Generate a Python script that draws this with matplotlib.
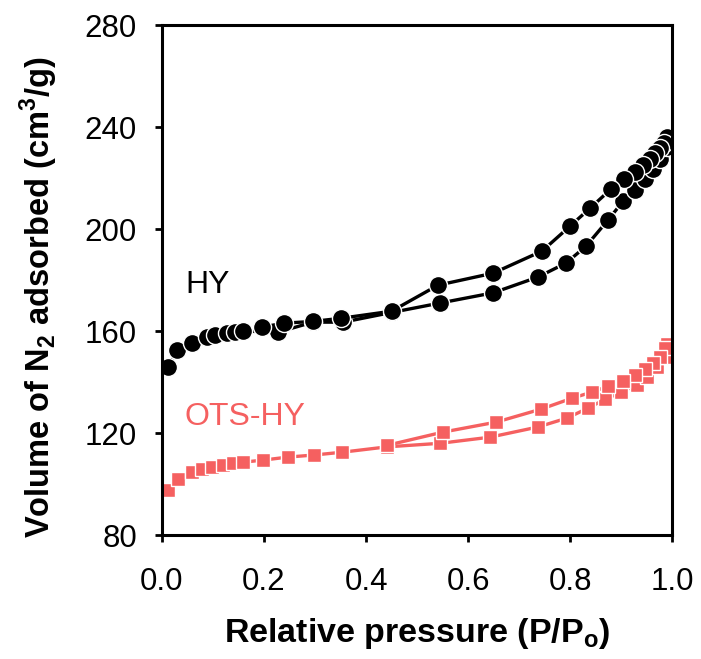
import matplotlib
matplotlib.use("Agg")
import matplotlib.pyplot as plt

plt.rcParams['font.family'] = ['Liberation Sans', 'DejaVu Sans']

# HY isotherm
hy_ads_x = [0.012, 0.03, 0.059, 0.088, 0.104, 0.127, 0.143, 0.159, 0.228, 0.296, 0.355, 0.45,
            0.545, 0.649, 0.737, 0.792, 0.831, 0.874, 0.904, 0.927, 0.947, 0.963, 0.976, 0.99]
hy_ads_y = [145.9, 152.5, 155.3, 157.6, 158.4, 159.2, 159.6, 160.0, 159.6, 163.5, 163.5, 167.3,
            171.0, 175.0, 181.2, 186.7, 193.3, 203.5, 211.0, 215.5, 219.5, 223.5, 227.5, 232.0]
hy_des_x = [0.99, 0.984, 0.976, 0.967, 0.957, 0.943, 0.927, 0.906, 0.88, 0.839, 0.80, 0.745,
            0.649, 0.541, 0.45, 0.35, 0.296, 0.24, 0.196]
hy_des_y = [236.0, 233.7, 231.8, 229.8, 227.5, 225.0, 222.4, 219.6, 215.7, 208.2, 201.2, 191.4,
            182.7, 178.0, 167.8, 165.0, 163.8, 163.1, 161.6]

# OTS-HY isotherm
ots_ads_x = [0.012, 0.031, 0.059, 0.078, 0.098, 0.12, 0.139, 0.159, 0.198, 0.247, 0.298, 0.353,
             0.441, 0.545, 0.643, 0.737, 0.794, 0.835, 0.869, 0.90, 0.93, 0.95, 0.97, 0.985, 0.995]
ots_ads_y = [97.6, 102.0, 104.7, 105.9, 106.7, 107.5, 108.2, 108.6, 109.4, 110.6, 111.4, 112.5,
             114.6, 116.0, 118.4, 122.4, 125.9, 129.8, 133.3, 136.0, 139.0, 142.0, 146.0, 150.0, 154.0]
ots_des_x = [0.99, 0.986, 0.975, 0.963, 0.947, 0.927, 0.904, 0.875, 0.843, 0.804, 0.743, 0.655,
             0.551, 0.441]
ots_des_y = [155.0, 153.3, 149.8, 147.5, 145.1, 142.7, 140.4, 138.4, 136.1, 133.7, 129.4, 124.3,
             120.4, 115.2]

ots_color = '#F56060'

fig = plt.figure(figsize=(7.01, 6.59), dpi=100)
ax = fig.add_axes([0.231, 0.188, 0.728, 0.774])

ax.plot(ots_ads_x, ots_ads_y, '-s', color=ots_color, lw=2.4, ms=10.5, mec='white', mew=1.0)
ax.plot(ots_des_x, ots_des_y, '-s', color=ots_color, lw=2.4, ms=10.5, mec='white', mew=1.0)
ax.plot(hy_ads_x, hy_ads_y, '-o', color='black', lw=2.4, ms=13, mec='white', mew=1.0)
ax.plot(hy_des_x, hy_des_y, '-o', color='black', lw=2.4, ms=13, mec='white', mew=1.0)

ax.text(0.045, 178, 'HY', fontsize=23, color='black', va='center')
ax.text(0.045, 126.3, 'OTS-HY', fontsize=23, color=ots_color, va='center')

ax.set_xlim(0, 1)
ax.set_ylim(80, 280)
ax.set_xticks([0.0, 0.2, 0.4, 0.6, 0.8, 1.0])
ax.set_xticklabels(['0.0', '0.2', '0.4', '0.6', '0.8', '1.0'])
ax.set_yticks([80, 120, 160, 200, 240, 280])

for s in ax.spines.values():
    s.set_linewidth(2.2)
ax.tick_params(direction='out', length=5, width=2, labelsize=22.5)
ax.tick_params(axis='x', pad=18)
ax.tick_params(axis='y', pad=13)

ax.set_xlabel('Relative pressure (P/P$_\\mathregular{o}$)', fontsize=24.5, fontweight='bold', labelpad=14)
ax.set_ylabel('Volume of N$_\\mathregular{2}$ adsorbed (cm$^\\mathregular{3}$/g)', fontsize=23.5,
              fontweight='bold')
ax.yaxis.set_label_coords(-0.2, 0.467)

fig.savefig('out.png', dpi=100)
